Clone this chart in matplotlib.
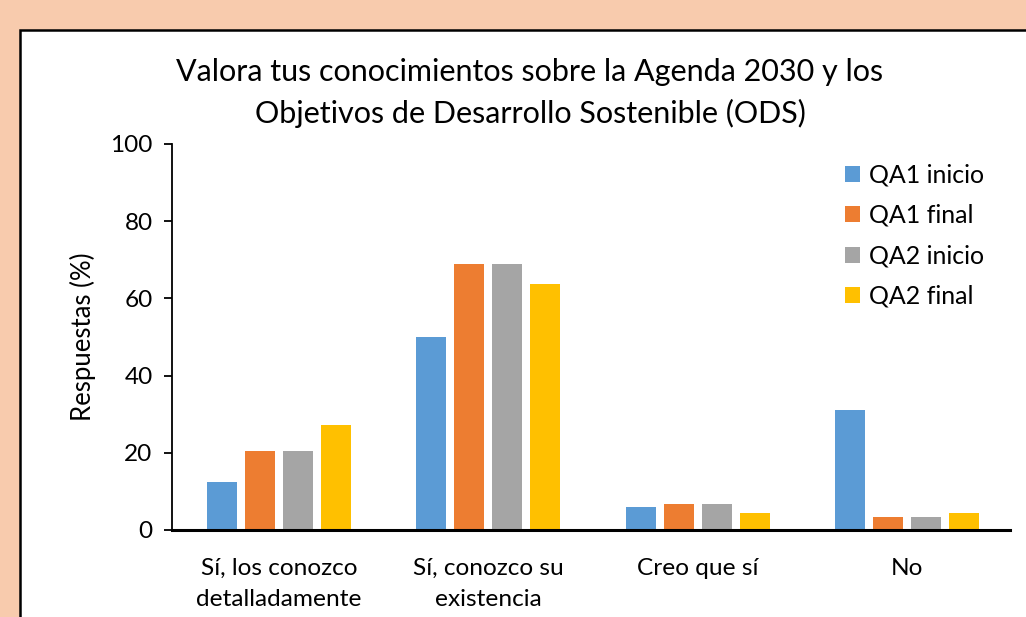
import matplotlib
matplotlib.use("Agg")
import matplotlib.pyplot as plt
import numpy as np
from matplotlib.patches import Rectangle

categories = ["Sí, los conozco\ndetalladamente", "Sí, conozco su\nexistencia", "Creo que sí", "No"]
series_names = ["QA1 inicio", "QA1 final", "QA2 inicio", "QA2 final"]
qa1_inicio = [12.4, 50.0, 6.0, 31.1]
qa1_final = [20.5, 69.0, 6.7, 3.4]
qa2_inicio = [20.5, 69.0, 6.7, 3.4]
qa2_final = [27.2, 63.7, 4.4, 4.4]
yticks = [0, 20, 40, 60, 80, 100]
title = "Valora tus conocimientos sobre la Agenda 2030 y los\nObjetivos de Desarrollo Sostenible (ODS)"
ylabel = "Respuestas (%)"

colors = ["#5B9BD5", "#ED7D31", "#A5A5A5", "#FFC000"]
plt.rcParams['font.family'] = ['Lato', 'DejaVu Sans']

fig = plt.figure(figsize=(10.26, 6.17), dpi=100)
fig.patch.set_facecolor("#F8CBAD")
W, H = 1026, 617

bg = fig.add_axes([0, 0, 1, 1], zorder=-5)
bg.set_xlim(0, W)
bg.set_ylim(H, 0)
bg.axis("off")
bg.add_patch(Rectangle((20, 30), W + 50, H + 50, facecolor="white", edgecolor="black", linewidth=1.8))

ax = fig.add_axes([172 / W, 1 - 530 / H, (1010 - 172) / W, (530 - 144) / H], zorder=1)
ax.set_facecolor("none")

x = np.arange(len(categories))
width = 0.143
step = 0.181
shift = 0.01
data = [qa1_inicio, qa1_final, qa2_inicio, qa2_final]
for i, (name, vals) in enumerate(zip(series_names, data)):
    ax.bar(x + shift + (i - 1.5) * step, vals, width, color=colors[i], label=name, zorder=2)

ax.set_xlim(-0.5, len(categories) - 0.5)
ax.set_ylim(0, 100)
ax.set_yticks(yticks)
ax.set_xticks(x + shift)
ax.set_xticklabels(categories, fontsize=17.6, linespacing=1.62)
ax.tick_params(axis='y', labelsize=17.6, length=6, width=1.3, direction='out', pad=8)
ax.tick_params(axis='x', length=0, pad=20)
for s in ["top", "right"]:
    ax.spines[s].set_visible(False)
ax.spines["left"].set_linewidth(1.3)
ax.spines["bottom"].set_linewidth(2.2)
ax.spines["bottom"].set_zorder(3)
ax.set_ylabel(ylabel, fontsize=18.5, labelpad=10)

fig.text(530 / W, 1 - 93 / H, title, ha="center", va="center", fontsize=22, linespacing=1.5)

leg = ax.legend(loc="upper right", bbox_to_anchor=(0.99, 0.995), frameon=False, fontsize=18,
                handlelength=0.62, handleheight=0.62, handletextpad=0.35, labelspacing=0.7,
                borderaxespad=0.3)

fig.savefig("out.png", dpi=100, facecolor=fig.get_facecolor())
